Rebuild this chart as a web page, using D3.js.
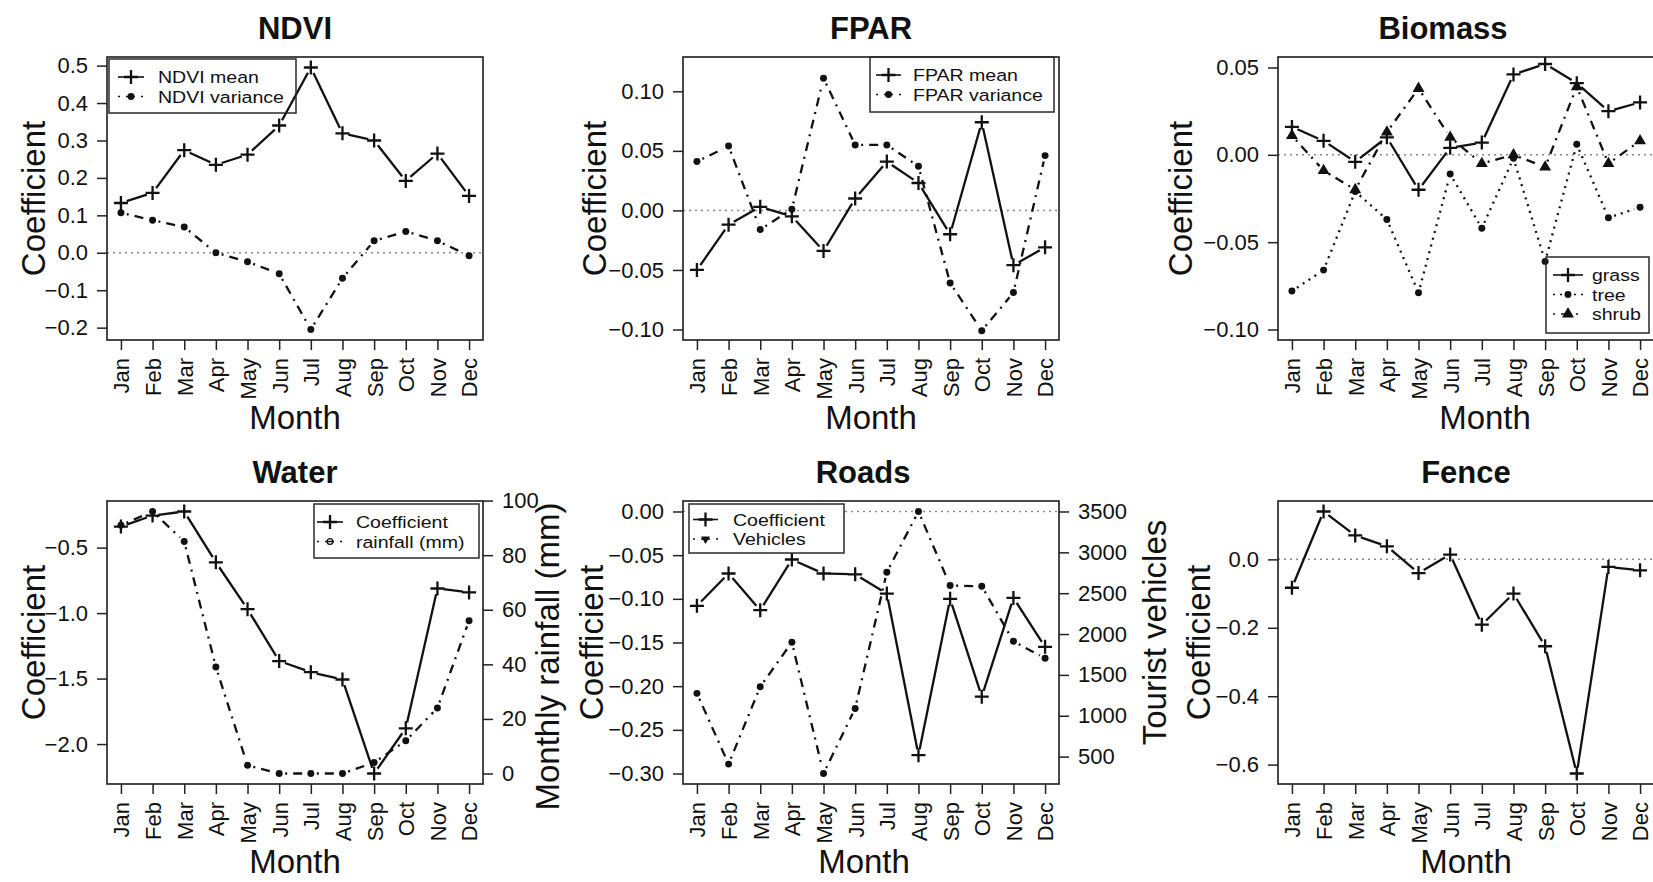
<!DOCTYPE html>
<html>
<head>
<meta charset="utf-8">
<script src="https://cdn.jsdelivr.net/npm/d3@7"></script>
<style>
  body { margin: 0; background: #fff; }
  svg { display: block; }
</style>
</head>
<body>
<svg id="chart" width="1653" height="882"></svg>
<script>
const months = ["Jan", "Feb", "Mar", "Apr", "May", "Jun", "Jul", "Aug", "Sep", "Oct", "Nov", "Dec"];

// NDVI
const ndviMean = [0.133, 0.160, 0.274, 0.235, 0.262, 0.340, 0.495, 0.319, 0.300, 0.192, 0.265, 0.152];
const ndviVariance = [0.107, 0.087, 0.069, 0.000, -0.024, -0.056, -0.205, -0.068, 0.032, 0.057, 0.032, -0.008];
const ndviTicks = [-0.2, -0.1, 0, 0.1, 0.2, 0.3, 0.4, 0.5];

// FPAR
const fparMean = [-0.050, -0.012, 0.003, -0.005, -0.034, 0.010, 0.041, 0.023, -0.020, 0.074, -0.046, -0.031];
const fparVariance = [0.041, 0.054, -0.016, 0.001, 0.111, 0.055, 0.055, 0.037, -0.061, -0.101, -0.069, 0.046];
const fparTicks = [-0.10, -0.05, 0, 0.05, 0.10];

// Biomass
const grass = [0.016, 0.008, -0.004, 0.010, -0.020, 0.004, 0.007, 0.046, 0.052, 0.041, 0.025, 0.030];
const tree = [-0.078, -0.066, -0.021, -0.037, -0.079, -0.011, -0.042, -0.002, -0.061, 0.006, -0.036, -0.030];
const shrub = [0.011, -0.009, -0.020, 0.013, 0.038, 0.010, -0.005, 0.000, -0.007, 0.039, -0.005, 0.008];
const biomassTicks = [-0.10, -0.05, 0, 0.05];

// Water
const waterCoef = [-0.339, -0.255, -0.224, -0.612, -0.970, -1.366, -1.451, -1.507, -2.225, -1.880, -0.812, -0.842];
const rainfall = [91, 96, 85, 39, 3, 0, 0, 0, 4, 12, 24, 56];
const waterTicks = [-2.0, -1.5, -1.0, -0.5];
const rainTicks = [0, 20, 40, 60, 80, 100];

// Roads
const roadsCoef = [-0.108, -0.071, -0.113, -0.055, -0.071, -0.072, -0.094, -0.279, -0.100, -0.212, -0.099, -0.155];
const vehicles = [1274, 408, 1355, 1899, 293, 1090, 2757, 3500, 2593, 2585, 1911, 1703];
const roadsTicks = [-0.30, -0.25, -0.20, -0.15, -0.10, -0.05, 0];
const vehicleTicks = [500, 1000, 1500, 2000, 2500, 3000, 3500];

// Fence
const fenceCoef = [-0.083, 0.140, 0.070, 0.038, -0.040, 0.014, -0.191, -0.100, -0.254, -0.626, -0.022, -0.032];
const fenceTicks = [-0.6, -0.4, -0.2, 0];

const FONT = '"Liberation Sans", Arial, Helvetica, sans-serif';
const INK = "#111";
const W = 376, H = 283;
const GAP = 6; // gap around points, like R type="b"
const DOTDASH = "2,6,9,6";
const DOTTED = "2,5";

const symbols = {
  plus: {d: "M-7,0H7M0,-7V7", fill: "none", sw: 2.3},
  dot: {d: d3.symbol(d3.symbolCircle, 38)(), fill: INK, sw: 0},
  tri: {d: d3.symbol(d3.symbolTriangle, 62)(), fill: INK, sw: 0},
  ring: {d: d3.symbol(d3.symbolCircle, 26)(), fill: "none", sw: 1.3},
  triDown: {d: d3.symbol(d3.symbolTriangle, 34)(), fill: INK, sw: 0, rot: 180}
};

function drawMark(g, type, x, y) {
  const s = symbols[type];
  g.append("path")
    .attr("d", s.d)
    .attr("transform", `translate(${x},${y})` + (s.rot ? ` rotate(${s.rot})` : ""))
    .attr("fill", s.fill)
    .attr("stroke", s.sw ? INK : "none")
    .attr("stroke-width", s.sw);
}

function padDomain([lo, hi]) {
  const p = (hi - lo) * 0.04;
  return [lo - p, hi + p];
}

const panels = [
  {
    title: "NDVI", x: 107, y: 57, ticks: ndviTicks, fmt: ".1f", ylabX: -62, zero: true,
    series: [
      {label: "NDVI mean", values: ndviMean, dash: null, mark: "plus"},
      {label: "NDVI variance", values: ndviVariance, dash: DOTDASH, mark: "dot"}
    ],
    legend: {x: 2, y: 2, w: 187, h: 54, rows: [18, 37.5], sx: [9, 35], tx: 49}
  },
  {
    title: "FPAR", x: 683, y: 57, ticks: fparTicks, fmt: ".2f", lim: [-0.1, 0.12], ylabX: -77, zero: true,
    series: [
      {label: "FPAR mean", values: fparMean, dash: null, mark: "plus"},
      {label: "FPAR variance", values: fparVariance, dash: DOTDASH, mark: "dot"}
    ],
    legend: {x: 187, y: 0, w: 184, h: 55, rows: [18, 37.5], sx: [6, 31], tx: 43}
  },
  {
    title: "Biomass", x: 1278, y: 57, ticks: biomassTicks, fmt: ".2f", lim: [-0.1, 0.05], ylabX: -86, zero: true,
    titleDx: -23, xlabDx: 19,
    series: [
      {label: "grass", values: grass, dash: null, mark: "plus"},
      {label: "tree", values: tree, dash: DOTTED, mark: "dot"},
      {label: "shrub", values: shrub, dash: DOTDASH, mark: "tri"}
    ],
    legend: {x: 268, y: 200, w: 103, h: 76, rows: [18, 37.5, 57], sx: [7, 37], tx: 46}
  },
  {
    title: "Water", x: 107, y: 501, ticks: waterTicks, fmt: ".1f", ylabX: -62, zero: false,
    right: {ticks: rainTicks, fmt: "d", label: "Monthly rainfall (mm)", off: 76, dy: 14},
    series: [
      {label: "Coefficient", values: waterCoef, dash: null, mark: "plus"},
      {label: "rainfall (mm)", values: rainfall, dash: DOTDASH, mark: "dot", legendMark: "ring", axis: "right"}
    ],
    legend: {x: 207, y: 3, w: 165, h: 54, rows: [18, 37.5], sx: [3, 29], tx: 42}
  },
  {
    title: "Roads", x: 683, y: 501, ticks: roadsTicks, fmt: ".2f", lim: [-0.3, 0], ylabX: -80, zero: true,
    titleDx: -8, xlabDx: -7,
    right: {ticks: vehicleTicks, fmt: "d", label: "Tourist vehicles", off: 107, dy: -10},
    series: [
      {label: "Coefficient", values: roadsCoef, dash: null, mark: "plus"},
      {label: "Vehicles", values: vehicles, dash: DOTDASH, mark: "dot", legendMark: "triDown", axis: "right"}
    ],
    legend: {x: 6, y: 3, w: 155, h: 49, rows: [15.5, 35], sx: [4, 29], tx: 44, fill: "#fff"}
  },
  {
    title: "Fence", x: 1278, y: 501, ticks: fenceTicks, fmt: ".1f", ylabX: -68, zero: true,
    series: [
      {label: "Coefficient", values: fenceCoef, dash: null, mark: "plus"}
    ]
  }
];

const svg = d3.select("#chart");
svg.append("rect").attr("width", 1653).attr("height", 882).attr("fill", "#fff");

function styleAxis(g, size) {
  g.attr("font-size", size).attr("font-family", FONT).attr("color", "#222");
  g.select(".domain").remove();
  g.selectAll(".tick line").attr("stroke-width", 1.5);
  g.selectAll(".tick text").attr("fill", INK);
}

function drawSeries(g, x, y, s) {
  const pts = s.values.map((v, i) => [x(i + 1), y(v)]);
  const segs = d3.pairs(pts).map(([a, b]) => {
    const dx = b[0] - a[0], dy = b[1] - a[1], len = Math.hypot(dx, dy);
    if (len <= 2 * GAP) return null;
    const ux = dx / len, uy = dy / len;
    return [[a[0] + ux * GAP, a[1] + uy * GAP], [b[0] - ux * GAP, b[1] - uy * GAP]];
  }).filter(Boolean);
  g.append("g").selectAll("path").data(segs).join("path")
    .attr("d", d3.line())
    .attr("fill", "none")
    .attr("stroke", INK)
    .attr("stroke-width", 2.3)
    .attr("stroke-dasharray", s.dash);
  const mg = g.append("g");
  pts.forEach(([px, py]) => drawMark(mg, s.mark, px, py));
}

panels.forEach((p) => {
  const g = svg.append("g").attr("transform", `translate(${p.x},${p.y})`);
  const x = d3.scaleLinear().domain([0.56, 12.44]).range([0, W]);

  const leftVals = p.series.filter((s) => s.axis !== "right").flatMap((s) => s.values);
  const y = d3.scaleLinear().domain(padDomain(p.lim || d3.extent(leftVals))).range([H, 0]);

  let yR = null;
  if (p.right) {
    const rightVals = p.series.filter((s) => s.axis === "right").flatMap((s) => s.values);
    yR = d3.scaleLinear().domain(padDomain(d3.extent(rightVals))).range([H, 0]);
  }

  // zero reference line
  if (p.zero) {
    g.append("line")
      .attr("x1", 0).attr("x2", W)
      .attr("y1", y(0)).attr("y2", y(0))
      .attr("stroke", "#8a8a8a")
      .attr("stroke-width", 1.5)
      .attr("stroke-dasharray", "2,4");
  }

  p.series.forEach((s) => drawSeries(g, x, s.axis === "right" ? yR : y, s));

  // box
  g.append("rect")
    .attr("width", W).attr("height", H)
    .attr("fill", "none")
    .attr("stroke", "#2a2a2a")
    .attr("stroke-width", 1.7);

  // axes
  const ax = g.append("g").attr("transform", `translate(0,${H})`)
    .call(d3.axisBottom(x).tickValues(d3.range(1, 13)).tickSize(10).tickFormat((d) => months[d - 1]));
  styleAxis(ax, 22);
  ax.selectAll(".tick text")
    .attr("transform", "rotate(-90)")
    .attr("text-anchor", "end")
    .attr("x", -18)
    .attr("y", 0)
    .attr("dy", "0.36em");

  const ay = g.append("g")
    .call(d3.axisLeft(y).tickValues(p.ticks).tickSize(10).tickPadding(9).tickFormat(d3.format(p.fmt)));
  styleAxis(ay, 22);

  if (p.right) {
    const ar = g.append("g").attr("transform", `translate(${W},0)`)
      .call(d3.axisRight(yR).tickValues(p.right.ticks).tickSize(10).tickPadding(9).tickFormat(d3.format(p.right.fmt)));
    styleAxis(ar, 22);
    g.append("text")
      .attr("transform", `translate(${W + p.right.off},${H / 2 + p.right.dy}) rotate(-90)`)
      .attr("text-anchor", "middle")
      .attr("font-family", FONT)
      .attr("font-size", 33)
      .attr("fill", INK)
      .text(p.right.label);
  }

  // titles
  g.append("text")
    .attr("x", W / 2 + (p.titleDx || 0))
    .attr("y", -18.5)
    .attr("text-anchor", "middle")
    .attr("font-family", FONT)
    .attr("font-weight", "bold")
    .attr("font-size", 31)
    .attr("fill", INK)
    .text(p.title);

  g.append("text")
    .attr("x", W / 2 + (p.xlabDx || 0))
    .attr("y", H + 89)
    .attr("text-anchor", "middle")
    .attr("font-family", FONT)
    .attr("font-size", 33)
    .attr("fill", INK)
    .text("Month");

  g.append("text")
    .attr("transform", `translate(${p.ylabX},${H / 2}) rotate(-90)`)
    .attr("text-anchor", "middle")
    .attr("font-family", FONT)
    .attr("font-size", 33)
    .attr("fill", INK)
    .text("Coefficient");

  // legend
  if (p.legend) {
    const L = p.legend;
    const lg = g.append("g").attr("transform", `translate(${L.x},${L.y})`);
    lg.append("rect")
      .attr("width", L.w).attr("height", L.h)
      .attr("fill", L.fill || "none")
      .attr("stroke", "#2a2a2a")
      .attr("stroke-width", 1.5);
    p.series.forEach((s, i) => {
      const ry = L.rows[i];
      lg.append("line")
        .attr("x1", L.sx[0]).attr("x2", L.sx[1])
        .attr("y1", ry).attr("y2", ry)
        .attr("stroke", INK)
        .attr("stroke-width", 1.6)
        .attr("stroke-dasharray", s.dash);
      drawMark(lg, s.legendMark || s.mark, (L.sx[0] + L.sx[1]) / 2, ry);
      // legend text in the reference is a little wider than its height suggests
      lg.append("text")
        .attr("transform", `translate(${L.tx},${ry}) scale(1.15,1)`)
        .attr("dy", "0.36em")
        .attr("font-family", FONT)
        .attr("font-size", 17)
        .attr("fill", INK)
        .text(s.label);
    });
  }
});
</script>
</body>
</html>
